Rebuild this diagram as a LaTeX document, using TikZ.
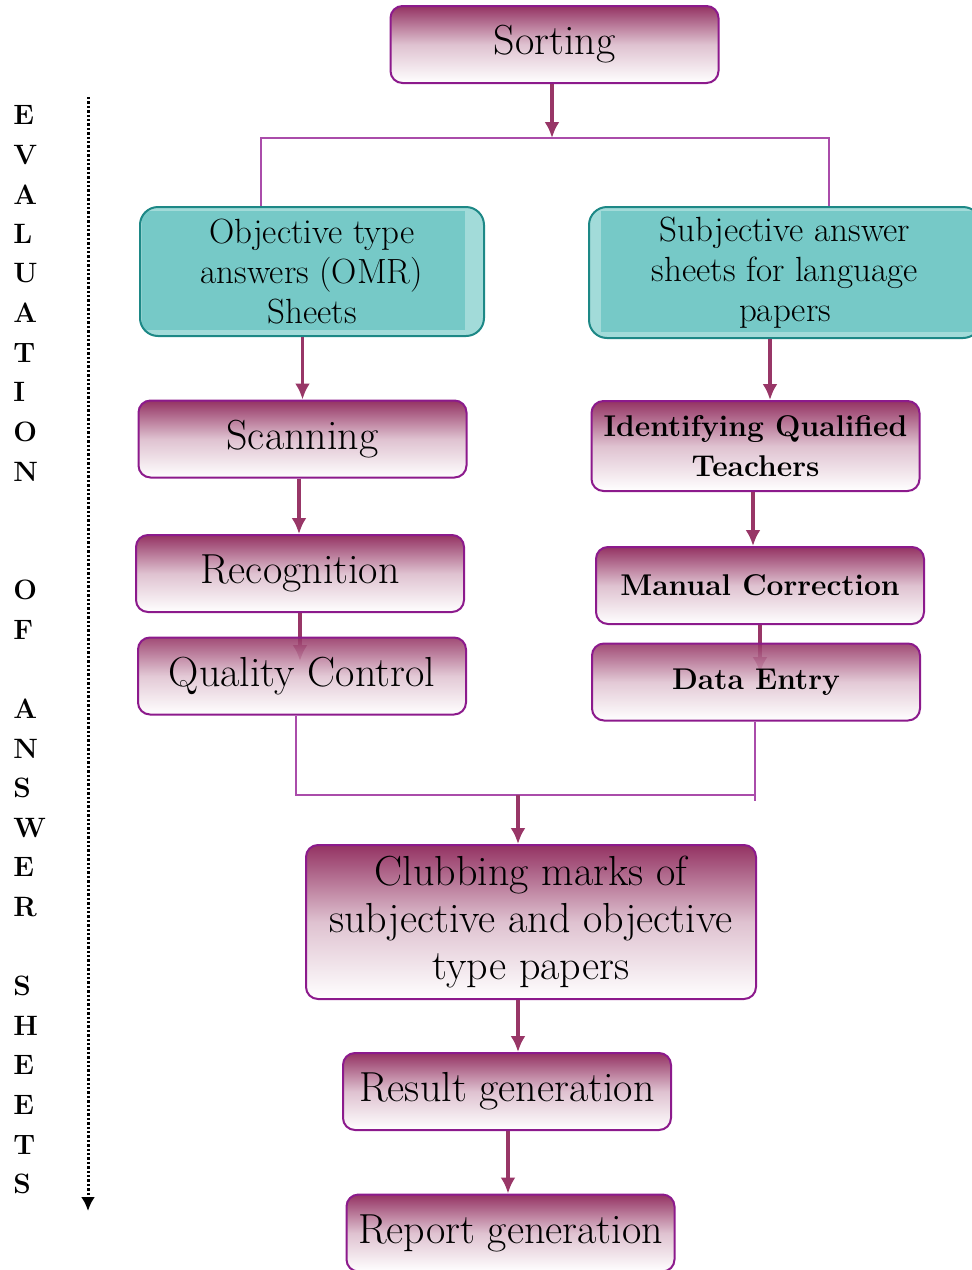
\documentclass[tikz,border=0pt]{standalone}
\usepackage{tikz}
\usetikzlibrary{calc,positioning,shapes,arrows,arrows.meta}

\definecolor{plumtop}{HTML}{943363}
\definecolor{plumline}{HTML}{8C1A8C}
\definecolor{plumarrow}{HTML}{983667}
\definecolor{linkline}{HTML}{AA4CAA}
\definecolor{tealin}{HTML}{76C9C7}
\definecolor{tealout}{HTML}{A2DBD9}
\definecolor{tealline}{HTML}{1D8886}

\tikzset{
	stage/.style={draw=plumline, line width=1pt, rounded corners=6pt, top color=plumtop, bottom color=white, middle color=plumtop!30, inner sep=0pt, align=center, minimum width=164pt, minimum height=38.5pt},
	sheetbox/.style={draw=tealline, line width=1pt, rounded corners=9pt, fill=tealout, inner sep=0pt, align=center, font=\fontsize{17.5}{20}\selectfont},
	flow/.style={-{Latex[length=8pt,width=7.5pt]}, line width=1.6pt, draw=plumarrow},
	link/.style={line width=0.8pt, draw=linkline},
	letter/.style={anchor=west, inner sep=0pt, font=\fontsize{14}{14}\selectfont\bfseries},
	big/.style={font=\fontsize{21}{23.5}\selectfont},
	heavy/.style={font=\fontsize{15}{20}\selectfont\bfseries}
}

\begin{document}
\begin{tikzpicture}[x=0.5pt, y=-0.5pt]
		\useasboundingbox (0,0) rectangle (972,1270);

		% left column
		\foreach \ch/\row in {E/0,V/1,A/2,L/3,U/4,A/5,T/6,I/7,O/8,N/9,O/12,F/13,A/15,N/16,S/17,W/18,E/19,R/20,S/22,H/23,E/24,E/25,T/26,S/27}
			\node[letter] (ch\row) at (13,115+39.6*\row) {\ch};
		\coordinate (flowtop) at (88,97);
		\coordinate (flowend) at (88,1211);
		\draw [-{Latex[length=7pt,width=7pt]}, dash pattern=on 1.2pt off 1pt, line width=1.5pt] (flowtop) -- (flowend);

		% boxes
		\node[stage, font=\fontsize{21}{23}\selectfont] (sort) at (554.5,44.5) {Sorting};
		\node[sheetbox, minimum width=172pt, minimum height=64.5pt,
			path picture={\fill[tealin, sharp corners] ($(path picture bounding box.north west)+(2,4)$) rectangle ($(path picture bounding box.south east)+(-19,-6)$);}]
			(objsheet) at (312,271.5) {Objective type\\answers (OMR)\\Sheets};
		\node[sheetbox, minimum width=196pt, minimum height=65.5pt,
			path picture={\fill[tealin, sharp corners] ($(path picture bounding box.north west)+(12,4)$) rectangle ($(path picture bounding box.south east)+(-2,-6)$);}]
			(subjsheet) at (785,272.5) {Subjective answer\\sheets for language\\papers};

		\node[stage, big] (scan) at (302.5,439) {Scanning};
		\node[stage, big] (recog) at (300,573.5) {Recognition};
		\node[stage, heavy, minimum height=45pt] (ident) at (755.5,446) {Identifying Qualified\\Teachers};
		\node[stage, heavy] (manual) at (760,585.5) {Manual Correction};

		% arrows that run under the next box
		\draw[flow] (recog.south) -- ($(recog.south)+(0,48)$);
		\draw[flow] (manual.south) -- ($(manual.south)+(0,48)$);

		\node[stage, big, fill opacity=0.88, text opacity=1] (qc) at (302,676) {Quality Control};
		\node[stage, heavy, fill opacity=0.88, text opacity=1] (dentry) at (756,682) {Data Entry};

		\node[stage, big, minimum width=225pt, minimum height=77pt] (club) at (531,922) {Clubbing marks of\\subjective and objective\\type papers};
		\node[stage, big] (result) at (507,1091.5) {Result generation};
		\node[stage, big] (report) at (510.5,1233) {Report generation};

		% top split
		\coordinate (split) at (552,138);
		\coordinate (lft) at (261,138);
		\coordinate (rgt) at (829,138);
		\draw[link] (lft |- objsheet.north) -- (lft) -- (rgt) -- (rgt |- subjsheet.north);
		\draw[flow] (sort.south -| split) -- (split);

		% column links
		\coordinate (colA) at (299,0);
		\coordinate (colB) at (770,0);
		\coordinate (colC) at (753,0);
		\coordinate (colD) at (518,0);
		\coordinate (colE) at (508,0);
		\draw[flow] (objsheet.south -| scan) -- (scan.north);
		\draw[flow] (scan.south -| colA) -- (recog.north -| colA);
		\draw[flow] (subjsheet.south -| colB) -- (ident.north -| colB);
		\draw[flow] (ident.south -| colC) -- (manual.north -| colC);

		% bottom join
		\coordinate (jl) at (296,795);
		\coordinate (jr) at (755,795);
		\coordinate (join) at (518,795);
		\draw[link] (jl |- qc.south) -- (jl) -- (jr);
		\draw[link] (jr |- dentry.south) -- ($(jr)+(0,6)$);
		\draw[flow] (join) -- (club.north -| join);

		\draw[flow] (club.south -| colD) -- (result.north -| colD);
		\draw[flow] (result.south -| colE) -- (report.north -| colE);

\end{tikzpicture}
\end{document}
